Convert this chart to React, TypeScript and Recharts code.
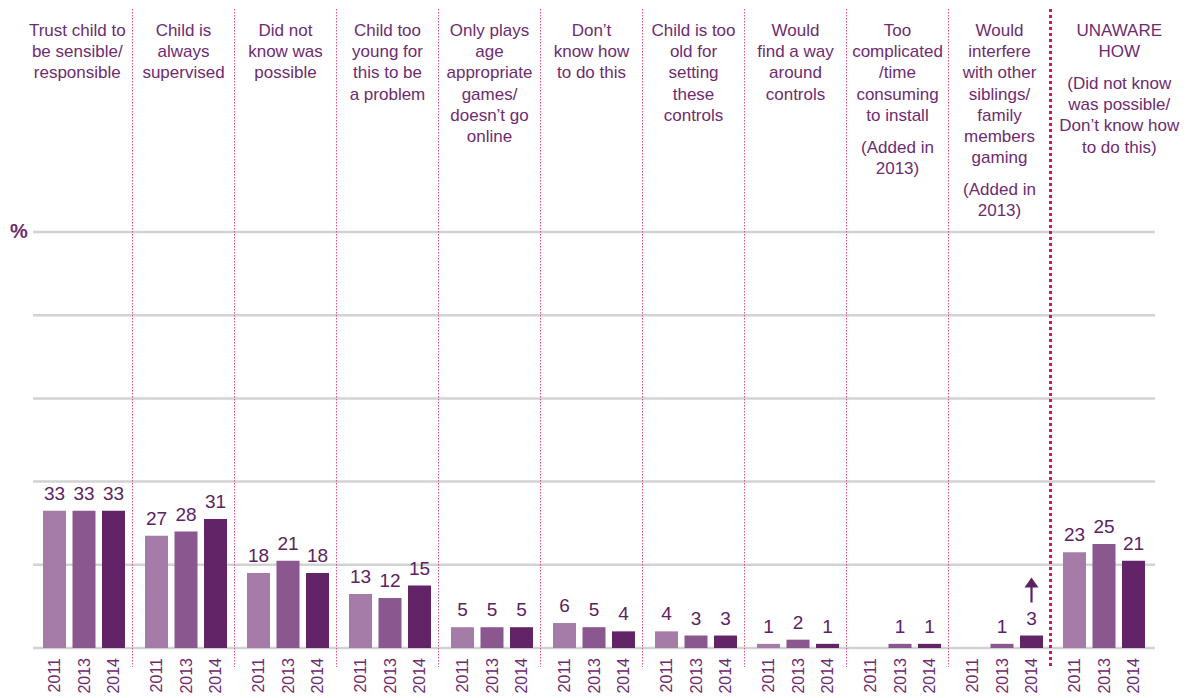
import React from 'react';
import { BarChart, Bar, XAxis, YAxis, CartesianGrid, LabelList } from 'recharts';

const categories = [
  'Trust child',
  'Always supervised',
  'Did not know',
  'Too young',
  'Age appropriate',
  "Don't know how",
  'Too old',
  'Find a way around',
  'Too complicated',
  'Interfere with others',
  'Unaware how'
];

// header lines above each group, '' = small extra gap
const headers: string[][] = [
  ['Trust child to', 'be sensible/', 'responsible'],
  ['Child is', 'always', 'supervised'],
  ['Did not', 'know was', 'possible'],
  ['Child too', 'young for', 'this to be', 'a problem'],
  ['Only plays', 'age', 'appropriate', 'games/', 'doesn\u2019t go', 'online'],
  ['Don\u2019t', 'know how', 'to do this'],
  ['Child is too', 'old for', 'setting', 'these', 'controls'],
  ['Would', 'find a way', 'around', 'controls'],
  ['Too', 'complicated', '/time', 'consuming', 'to install', '', '(Added in', '2013)'],
  ['Would', 'interfere', 'with other', 'siblings/', 'family', 'members', 'gaming', '', '(Added in', '2013)'],
  ['UNAWARE', 'HOW', '', '(Did not know', 'was possible/', 'Don\u2019t know how', 'to do this)']
];

const years = ['2011', '2013', '2014'];
const values2011 = [33, 27, 18, 13, 5, 6, 4, 1, null, null, 23];
const values2013 = [33, 28, 21, 12, 5, 5, 3, 2, 1, 1, 25];
const values2014 = [33, 31, 18, 15, 5, 4, 3, 1, 1, 3, 21];
const gridValues = [0, 20, 40, 60, 80, 100];
const ARROW_INDEX = 9;

const data = categories.map((name, i) => ({
  name,
  y2011: values2011[i],
  y2013: values2013[i],
  y2014: values2014[i]
}));

const FONT = '"Liberation Sans", Arial, sans-serif';
const TEXT_COLOR = '#6e2c70';
const LABEL_COLOR = '#5c2262';
const colors = ['#a57ca8', '#8b578f', '#622466'];
const BAND = 102;

function GroupTick(props: any) {
  const { x, payload } = props;
  const i: number = payload.index ?? props.index;
  const last = categories.length - 1;
  const left = i === 0 ? 22 : x - BAND / 2 - 2.5;
  const right = i === last ? 1188 : x + BAND / 2 - 2.5;
  const cx = (left + right) / 2;

  let ly = 36;
  const headerLines: React.ReactNode[] = [];
  headers[i].forEach((line, k) => {
    if (line === '') {
      ly += 10.6;
      return;
    }
    headerLines.push(
      <text key={k} x={cx} y={ly} textAnchor="middle" fontSize={17} fill={TEXT_COLOR} fontFamily={FONT}>
        {line}
      </text>
    );
    ly += 21.2;
  });

  return (
    <g>
      {i === 0 && (
        <text x={10} y={238} fontSize={20} fontWeight="bold" fill={TEXT_COLOR} fontFamily={FONT}>
          %
        </text>
      )}
      {i > 0 && (
        <line
          x1={left}
          x2={left}
          y1={9}
          y2={i === last ? 668 : 667}
          stroke={i === last ? '#d6135b' : '#e4507f'}
          strokeWidth={i === last ? 3 : 1}
          strokeDasharray={i === last ? '3 3' : '1.5 1.5'}
        />
      )}
      {headerLines}
      {years.map((yr, k) => (
        <text
          key={yr}
          transform={`translate(${x + (k - 1) * 29.5},658) rotate(-90)`}
          textAnchor="end"
          dominantBaseline="central"
          fontSize={16}
          fill={TEXT_COLOR}
          fontFamily={FONT}
        >
          {yr}
        </text>
      ))}
    </g>
  );
}

function makeLabel(withArrow: boolean) {
  return (props: any) => {
    const { x, y, width, value, index } = props;
    if (value == null) return null;
    const cx = x + width / 2;
    return (
      <g>
        <text x={cx} y={y - 11} textAnchor="middle" fontSize={19} fill={LABEL_COLOR} fontFamily={FONT}>
          {value}
        </text>
        {withArrow && index === ARROW_INDEX && (
          <g>
            <line x1={cx} x2={cx} y1={y - 33} y2={y - 49} stroke={LABEL_COLOR} strokeWidth={2.2} />
            <polygon points={`${cx - 7},${y - 48} ${cx + 7},${y - 48} ${cx},${y - 58}`} fill={LABEL_COLOR} />
          </g>
        )}
      </g>
    );
  };
}

export default function App() {
  const keys = ['y2011', 'y2013', 'y2014'];
  return (
    <div style={{ position: 'absolute', left: 0, top: 0, background: '#fff' }}>
      <BarChart
        width={1191}
        height={698}
        data={data}
        margin={{ top: 232, right: 36, left: 33, bottom: 0 }}
        barSize={23}
        barGap={6.5}
      >
        <CartesianGrid vertical={false} stroke="#d2d2d2" strokeWidth={2.5} />
        <XAxis
          dataKey="name"
          axisLine={false}
          tickLine={false}
          interval={0}
          height={50}
          tick={<GroupTick />}
        />
        <YAxis hide domain={[0, 100]} ticks={gridValues} />
        {keys.map((k, i) => (
          <Bar key={k} dataKey={k} fill={colors[i]} isAnimationActive={false}>
            <LabelList dataKey={k} content={makeLabel(i === 2)} />
          </Bar>
        ))}
      </BarChart>
    </div>
  );
}
